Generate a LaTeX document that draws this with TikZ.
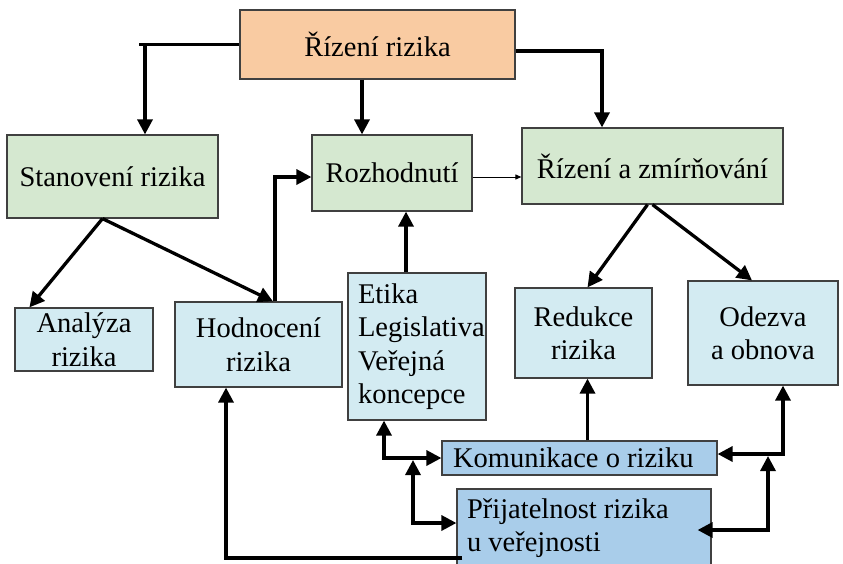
\documentclass[tikz,border=0pt]{standalone}
\usepackage{fontspec}
\setmainfont{Liberation Serif}
\usetikzlibrary{arrows.meta,calc}
\definecolor{peach}{HTML}{F9CBA2}
\definecolor{mint}{HTML}{D5E8D0}
\definecolor{pale}{HTML}{D3EBF2}
\definecolor{sky}{HTML}{A9CDEA}
\definecolor{frame}{HTML}{404040}

\begin{document}
\begin{tikzpicture}[x=1pt,y=-1pt,
  box/.style={draw=frame, line width=1.2pt, inner sep=0pt,
    font=\fontsize{28.5}{33.5}\selectfont, align=center},
  wire/.style={line width=3.3pt, line join=miter},
  arr/.style={wire, -{Triangle[length=15pt,width=15pt]}},
  darr/.style={wire, {Triangle[length=15pt,width=15pt]}-{Triangle[length=15pt,width=15pt]}},
  faint/.style={line width=1pt, -{Triangle[length=6pt,width=5pt]}}]

\clip (0,0) rectangle (843,563);

% boxes
\node[box, fill=peach, minimum width=275pt, minimum height=69pt] (R) at (377.5,44.5) {Řízení rizika};
\node[box, fill=mint, minimum width=211pt, minimum height=83pt] (S) at (112.5,176.5) {Stanovení rizika};
\node[box, fill=mint, minimum width=160pt, minimum height=76pt] (Rz) at (392,173) {Rozhodnutí};
\node[box, fill=mint, minimum width=261pt, minimum height=76pt] (Z) at (652.5,166) {Řízení a zmírňování};
\node[box, fill=pale, minimum width=138pt, minimum height=63pt] (A) at (84,339.5) {Analýza\\rizika};
\node[box, fill=pale, minimum width=167pt, minimum height=85pt] (H) at (258.5,344.5) {Hodnocení\\rizika};
\node[box, fill=pale, minimum width=138pt, minimum height=147pt, align=flush left,
      text width=118pt, inner xsep=10pt] (E) at (417,346.5) {Etika\\\mbox{Legislativa}\\Veřejná\\koncepce};
\node[box, fill=pale, minimum width=137pt, minimum height=90pt] (Rd) at (583.5,333) {Redukce\\rizika};
\node[box, fill=pale, minimum width=150pt, minimum height=104pt] (O) at (763,333) {Odezva\\a obnova};
\node[box, fill=sky, minimum height=34pt, align=flush left, text width=253pt, inner xsep=11pt] (K) at (579.5,458) {Komunikace o riziku};
\node[box, fill=sky, minimum height=78pt, align=flush left, text width=234pt, inner xsep=10pt] (P) at (584,528) {Přijatelnost rizika\\u veřejnosti};

% junction points
\coordinate (sj) at (145,44.5);
\coordinate (jl) at (413,460);
\coordinate (jr) at (768,456);

% connectors
\draw[arr] (R.west) -- (sj) -- (sj |- S.north);
\draw[wire] (sj) -- ++(-6,0);
\draw[arr] ([xshift=-15.5pt]R.south) -- ([xshift=-15.5pt]R.south |- Rz.north);
\draw[arr] ([yshift=-6.5pt]R.east) -| ([xshift=-50.5pt]Z.north);
\draw[arr] ([xshift=-10pt]S.south) -- ([xshift=15pt]A.north west);
\draw[arr] ([xshift=-10pt]S.south) -- ([xshift=14.5pt]H.north);
\draw[arr] ([xshift=16.5pt]H.north) |- ([yshift=-4pt]Rz.west);
\draw[arr] ([xshift=-11pt]E.north) -- ([xshift=-11pt]E.north |- Rz.south);
\draw[faint] ([yshift=-4pt]Rz.east) -- ([yshift=-4pt]Rz.east -| Z.west);
\draw[arr] ([xshift=-5pt]Z.south) -- ([xshift=4pt]Rd.north);
\draw[arr] (Z.south) -- ([xshift=-11pt]O.north);
\draw[arr] ([xshift=4pt]Rd.south |- K.north) -- ([xshift=4pt]Rd.south);
\draw[darr] ([xshift=-33pt]E.south) |- (K.west);
\draw[darr] ([yshift=5pt]P.west) -| (jl);
\draw[darr] ([yshift=4pt]K.east) -| ([xshift=20pt]O.south);
\draw[darr] ([xshift=-14pt,yshift=-2pt]P.east) -| (jr);
\draw[arr] ([xshift=6pt,yshift=-30pt]P.west) -| ([xshift=-32.5pt]H.south);
\end{tikzpicture}
\end{document}
